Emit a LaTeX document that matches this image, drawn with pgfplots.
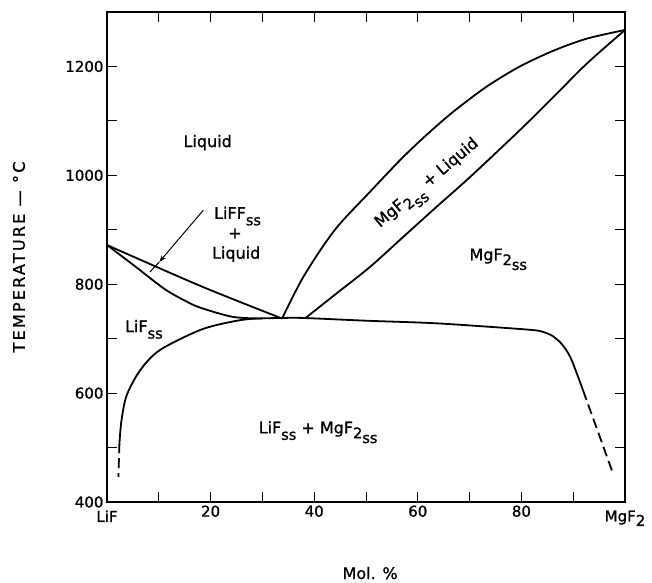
\documentclass[border=0pt]{standalone}
\usepackage{fontspec}
\setmainfont[FakeBold=1]{DejaVu Sans}
\usepackage{pgfplots}
\pgfplotsset{compat=1.18}
\usetikzlibrary{arrows.meta}
\newcommand{\sub}[1]{\raisebox{-0.4em}{\fontsize{14.5}{16}\selectfont #1}}
\newcommand{\mgss}{MgF\raisebox{-0.3em}{\fontsize{14.5}{16}\selectfont 2}\raisebox{-0.6em}{\fontsize{14.5}{16}\selectfont ss}}
\newcommand{\lab}{\fontsize{16}{19}\selectfont}
\newcommand{\tlab}{\fontsize{15}{18}\selectfont}
\newcommand{\low}[1]{\raisebox{-5pt}[\height]{#1}}

\begin{document}
\begin{tikzpicture}[font=\lab]
\begin{axis}[
  at={(0,0)}, anchor=south west,
  scale only axis, width=518pt, height=490pt,
  xmin=0, xmax=100, ymin=400, ymax=1300,
  xtick={0,20,...,100},
  xticklabels={\low{LiF},20,40,60,80,\low{MgF\raisebox{-0.3em}{2}}},
  minor xtick={10,30,50,70,90},
  ytick={400,600,...,1200},
  minor ytick={500,700,...,1300},
  major tick length=10pt, minor tick length=10pt,
  tick style={line width=1pt, black},
  tick label style={font=\tlab},
  label style={font=\lab},
  axis line style={line width=1.6pt},
  /pgf/number format/assume math mode=true,
  /pgf/number format/1000 sep={},
  ylabel={\addfontfeature{LetterSpace=14}TEMPERATURE — °C},
  ylabel style={at={(axis description cs:-0.17,0.5)}, anchor=center},
  xlabel={Mol. \%},
  xlabel style={at={(axis description cs:0.508,-0.145)}, anchor=center},
  every axis plot/.append style={line width=1.8pt, black},
]
% LiF liquidus
\addplot[smooth] coordinates {(0,872) (18,797) (33.8,737)};
% LiF solidus
\addplot[smooth] coordinates {(0,872) (5,836) (11,792) (15,770) (18,757) (24.3,740) (30,737)};
% LiF solvus, eutectic line, MgF2 solvus
\addplot[smooth] coordinates {
  (2.4,508) (2.8,550) (3.8,596) (6.4,642) (10.2,679) (18,716) (24,731)
  (28,736.5) (33.7,738) (38,738) (50,733) (63,728.5) (75,721) (82,716)
  (84,713) (86,705) (87.8,690) (89.4,667) (90.9,631) (91.9,605)};
\addplot[dash pattern=on 10pt off 5pt] coordinates {(2.4,508) (2.2,446)};
\addplot[dash pattern=on 10pt off 5pt] coordinates {(91.9,605) (97.7,452)};
% MgF2 liquidus
\addplot[smooth] coordinates {(33.8,737) (38,815) (44,900) (51,972) (57,1032)
  (62,1077) (67,1118) (73.3,1163) (79.7,1200) (86.2,1229) (92.6,1251) (100,1267)};
% MgF2 solidus
\addplot[smooth] coordinates {(38.2,737) (44.3,783) (50.8,832) (57.2,887)
  (63.6,942) (70.1,997) (79.7,1083) (86.2,1144) (92.6,1205) (100,1267)};
% leader
\addplot[line width=1pt, -{Stealth[length=7pt,width=5pt]}] coordinates {(18.6,936) (10.1,841)};
\addplot[line width=1pt] coordinates {(10.1,841) (8.3,822.6)};

\node[anchor=base west] at (axis cs:14.1,1052) {Liquid};
\node[anchor=base west] at (axis cs:20,920) {LiFF\sub{ss}};
\node at (axis cs:24.7,893) {+};
\node[anchor=base west] at (axis cs:19.6,847) {Liquid};
\node[anchor=base west] at (axis cs:2.8,712) {LiF\sub{ss}};
\node[anchor=base west] at (axis cs:28.6,526) {LiF\sub{ss} + \mgss};
\node[anchor=base west] at (axis cs:69.3,844) {\mgss};
\node[anchor=base west, rotate=40] at (axis cs:52.2,899) {\mgss{} + Liquid};
\end{axis}
\path[use as bounding box] (-107pt,-79pt) rectangle (545pt,502pt);
\end{tikzpicture}
\end{document}
